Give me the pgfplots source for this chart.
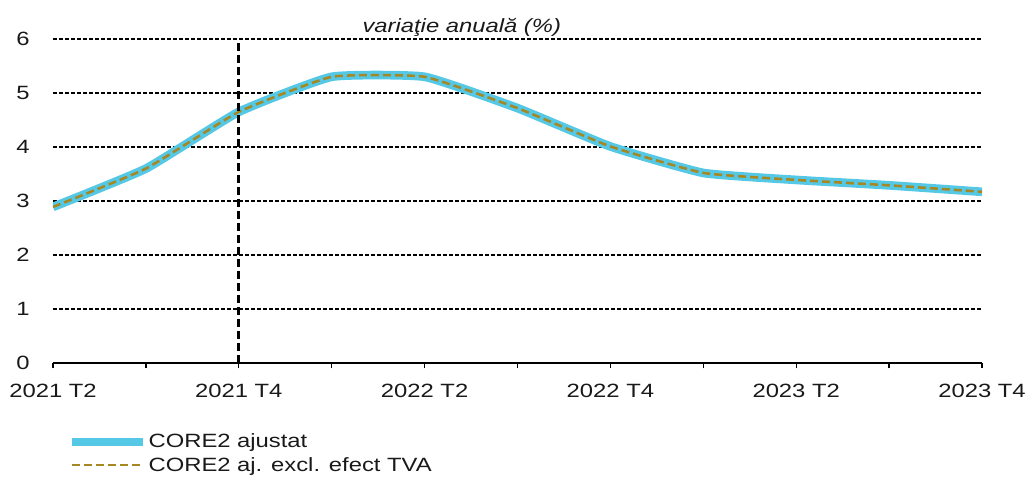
\documentclass[border=0pt]{standalone}
\usepackage{fontspec}
\setmainfont{Liberation Sans}[FakeStretch=1.24]
\usepackage{pgfplots}
\pgfplotsset{compat=1.18}
\definecolor{cyanline}{RGB}{85,200,230}
\definecolor{oliveline}{RGB}{165,135,35}
\begin{document}
\begin{tikzpicture}
\begin{axis}[
  scale only axis,
  width=696.75pt, height=243pt,
  xmin=0, xmax=10, ymin=0, ymax=6,
  axis lines*=left,
  y axis line style={draw=none},
  x axis line style={line width=1.5pt},
  xtick={0,1,2,3,4,5,6,7,8,9,10},
  xticklabels={2021 T2,,2021 T4,,2022 T2,,2022 T4,,2023 T2,,2023 T4},
  xtick style={black, line width=1pt},
  tick align=outside,
  major tick length=4pt,
  ytick={0,1,2,3,4,5,6},
  ytick style={draw=none},
  /pgf/number format/assume math mode=true,
  ymajorgrids,
  grid style={black, line width=0.9pt, dash pattern=on 3pt off 1.5pt},
  tick label style={font=\fontsize{14.4pt}{17pt}\selectfont, text=black!90},
  yticklabel style={xshift=-10pt},
  xticklabel style={yshift=-8pt},
  title={variaţie anuală (\%)},
  title style={at={(0.44,1)}, anchor=base, yshift=-1.5pt, inner sep=0pt, font=\fontsize{14.4pt}{17pt}\selectfont\itshape, text=black!90},
  legend cell align=left,
  legend style={draw=none, fill=none, inner sep=0pt,
    at={(0,0)}, anchor=north west, xshift=11pt, yshift=-52pt,
    font=\fontsize{14.4pt}{17pt}\selectfont, text=black!90,
    nodes={inner sep=1pt}, row sep=3.5pt},
  legend image code/.code={\draw[#1] (0pt,0pt) -- (41pt,0pt); \path (0pt,0pt) -- (53pt,0pt);},
]
\addplot[cyanline, line width=6.5pt, smooth, tension=0.25] coordinates {
  (0,2.89) (1,3.60) (2,4.65) (3,5.30) (4,5.30) (5,4.72) (6,4.01) (7,3.52) (8,3.39) (9,3.29) (10,3.17)
};
\addlegendentry{CORE2 ajustat}
\addplot[oliveline, line width=1.9pt, dash pattern=on 6pt off 3pt, smooth, tension=0.25] coordinates {
  (0,2.89) (1,3.60) (2,4.65) (3,5.30) (4,5.30) (5,4.72) (6,4.01) (7,3.52) (8,3.39) (9,3.29) (10,3.17)
};
\addlegendentry{CORE2 aj. excl. efect TVA}
\addplot[black, line width=2pt, dash pattern=on 6pt off 3pt, forget plot] coordinates {(2,0) (2,6)};
\end{axis}
\pgfresetboundingbox
\path[use as bounding box] (-39.75pt,-86.25pt) rectangle (729.75pt,272.25pt);
\end{tikzpicture}
\end{document}
